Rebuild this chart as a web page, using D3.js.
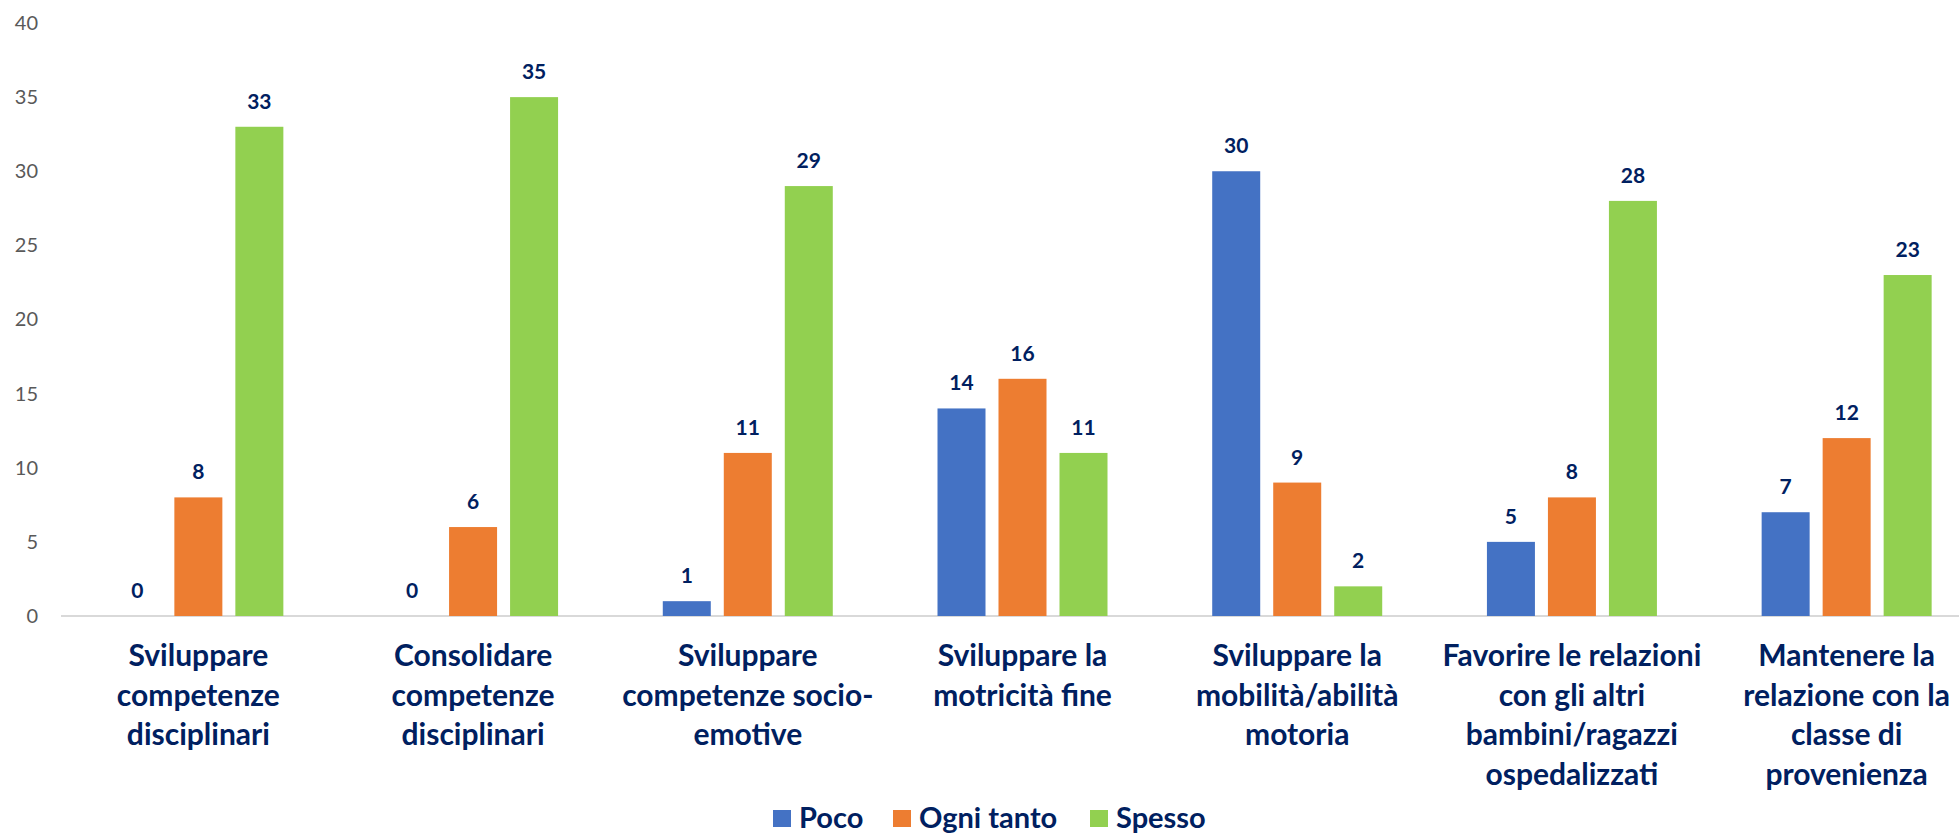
<!DOCTYPE html>
<html>
<head>
<meta charset="utf-8">
<script src="https://cdn.jsdelivr.net/npm/d3@7"></script>
<style>
  html, body { margin: 0; padding: 0; background: #ffffff; }
  svg { display: block; }
</style>
</head>
<body>
<svg id="chart" width="1959" height="834"></svg>
<script>
// ---- data ----
const categories = [
  "Sviluppare\ncompetenze\ndisciplinari",
  "Consolidare\ncompetenze\ndisciplinari",
  "Sviluppare\ncompetenze socio-\nemotive",
  "Sviluppare la\nmotricità fine",
  "Sviluppare la\nmobilità/abilità\nmotoria",
  "Favorire le relazioni\ncon gli altri\nbambini/ragazzi\nospedalizzati",
  "Mantenere la\nrelazione con la\nclasse di\nprovenienza"
];
const seriesNames = ["Poco", "Ogni tanto", "Spesso"];
const poco      = [0, 0, 1, 14, 30, 5, 7];
const ogniTanto = [8, 6, 11, 16, 9, 8, 12];
const spesso    = [33, 35, 29, 11, 2, 28, 23];
const yTicks = [0, 5, 10, 15, 20, 25, 30, 35, 40];
const seriesColors = ["#4472C4", "#ED7D31", "#92D050"];

const seriesValues = [poco, ogniTanto, spesso];
const rows = categories.map((c, i) => ({
  cat: c,
  values: seriesNames.map((s, j) => ({ series: s, value: seriesValues[j][i] }))
}));

// ---- layout ----
const svg = d3.select("#chart");
const textColor = "#002060";
const font = "Lato, 'Open Sans', sans-serif";

const x0 = d3.scaleBand().domain(categories).range([61, 1984]).padding(0);
const x1 = d3.scaleBand().domain(seriesNames).range([0, 170]).paddingInner(13 / 61).paddingOuter(0);
const y = d3.scaleLinear().domain([0, 40]).range([616, 23]);
const color = d3.scaleOrdinal().domain(seriesNames).range(seriesColors);

// y axis
const yAxis = svg.append("g")
  .attr("transform", "translate(61,0)")
  .call(d3.axisLeft(y).tickValues(yTicks).tickSize(0).tickPadding(23));
yAxis.select(".domain").remove();
yAxis.selectAll("text")
  .attr("fill", "#595959")
  .style("font-family", font)
  .style("font-size", "20px");

// baseline
svg.append("line")
  .attr("x1", 61).attr("x2", 1959)
  .attr("y1", y(0)).attr("y2", y(0))
  .attr("stroke", "#d9d9d9").attr("stroke-width", 2);

// bars
const groups = svg.append("g").selectAll("g")
  .data(rows).join("g")
  .attr("transform", d => `translate(${x0(d.cat) + x0.bandwidth() / 2 - 85},0)`);

groups.selectAll("rect")
  .data(d => d.values).join("rect")
  .attr("x", d => x1(d.series))
  .attr("width", x1.bandwidth())
  .attr("y", d => y(d.value))
  .attr("height", d => y(0) - y(d.value))
  .attr("fill", d => color(d.series));

groups.selectAll("text.val")
  .data(d => d.values).join("text")
  .attr("class", "val")
  .attr("x", d => x1(d.series) + x1.bandwidth() / 2)
  .attr("y", d => y(d.value) - 18)
  .attr("text-anchor", "middle")
  .attr("fill", textColor)
  .style("font-family", font)
  .style("font-weight", "bold")
  .style("font-size", "21px")
  .text(d => d.value);

// category labels
const catG = svg.append("g").selectAll("text")
  .data(categories).join("text")
  .attr("x", d => x0(d) + x0.bandwidth() / 2)
  .attr("y", 666)
  .attr("text-anchor", "middle")
  .attr("fill", textColor)
  .style("font-family", font)
  .style("font-weight", "bold")
  .style("font-size", "30px");
catG.each(function (d) {
  const t = d3.select(this);
  d.split("\n").forEach((line, i) => {
    t.append("tspan")
      .attr("x", x0(d) + x0.bandwidth() / 2)
      .attr("dy", i === 0 ? 0 : 39.5)
      .text(line);
  });
});

// legend
const legend = svg.append("g");
const legendX = [773, 893, 1090];
seriesNames.forEach((s, i) => {
  const g = legend.append("g").attr("transform", `translate(${legendX[i]},810)`);
  g.append("rect").attr("width", 18).attr("height", 17).attr("fill", color(s));
  g.append("text")
    .attr("x", 26).attr("y", 18)
    .attr("fill", textColor)
    .style("font-family", font)
    .style("font-weight", "bold")
    .style("font-size", "29px")
    .text(s);
});
</script>
</body>
</html>
